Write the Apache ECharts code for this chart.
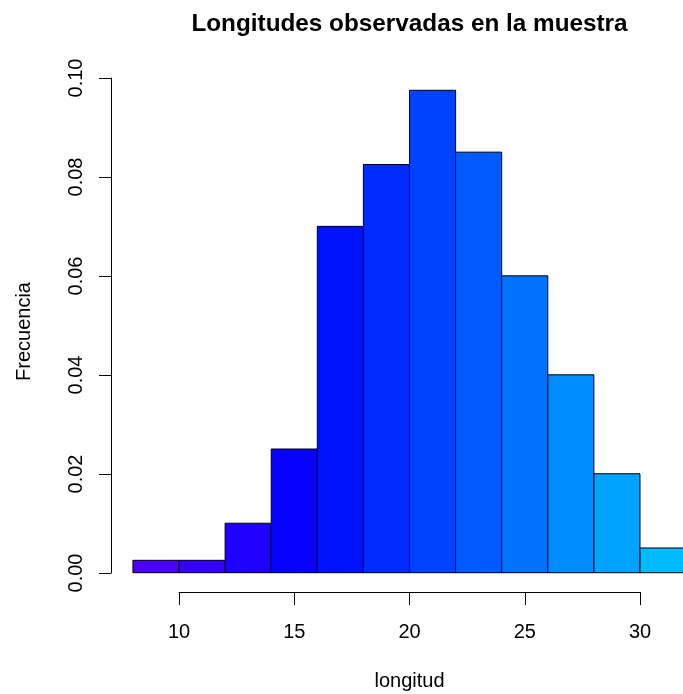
<!DOCTYPE html>
<html>
<head>
<meta charset="utf-8">
<script src="https://cdn.jsdelivr.net/npm/echarts@6/dist/echarts.min.js"></script>
<style>
html,body{margin:0;padding:0;background:#fff;}
#chart{width:683px;height:694px;}
</style>
</head>
<body>
<div id="chart"></div>
<script>
// Histogram data (density per bin)
const breaks = [8, 10, 12, 14, 16, 18, 20, 22, 24, 26, 28, 30, 32];
const density = [0.0025, 0.0025, 0.01, 0.025, 0.07, 0.0825, 0.0975, 0.085, 0.06, 0.04, 0.02, 0.005];
const barColors = ['#4C00FF', '#3500FF', '#1D00FF', '#0500FF', '#0013FF', '#002BFF',
                   '#0043FF', '#005BFF', '#0073FF', '#008BFF', '#00A3FF', '#00BBFF'];
const xTicks = [10, 15, 20, 25, 30];
const yTicks = [0, 0.02, 0.04, 0.06, 0.08, 0.1];

const titleText = 'Longitudes observadas en la muestra';
const xName = 'longitud';
const yName = 'Frecuencia';

const FONT = '"Liberation Sans", Arial, Helvetica, sans-serif';

const binData = density.map((d, i) => [breaks[i], breaks[i + 1], d, i]);

const chart = echarts.init(document.getElementById('chart'), null, {renderer: 'canvas'});
chart.setOption({
  backgroundColor: '#ffffff',
  animation: false,
  title: {
    text: titleText,
    left: 409.5,
    textAlign: 'center',
    top: 12,
    padding: 0,
    textStyle: {fontFamily: FONT, fontSize: 24.3, fontWeight: 'bold', color: '#000'}
  },
  grid: [
    {left: 110.8, right: -25.2, top: 71, bottom: 102, outerBoundsMode: 'none', containLabel: false},
    {left: 179, width: 461, top: 78, height: 495, outerBoundsMode: 'none', containLabel: false}
  ],
  xAxis: [
    {
      gridIndex: 0, type: 'value', min: 7.04, max: 32.96,
      axisLine: {show: false}, axisTick: {show: false}, axisLabel: {show: false}, splitLine: {show: false},
      name: xName, nameLocation: 'middle', nameGap: 79,
      nameTextStyle: {fontFamily: FONT, fontSize: 20, color: '#000'}
    },
    {
      gridIndex: 1, type: 'value', min: xTicks[0], max: xTicks[xTicks.length - 1], interval: 5,
      offset: 19,
      axisLine: {show: true, onZero: false, lineStyle: {color: '#000', width: 1}},
      axisTick: {show: true, length: 13, lineStyle: {color: '#000', width: 1}},
      axisLabel: {show: true, margin: 30, fontFamily: FONT, fontSize: 20, color: '#000'},
      splitLine: {show: false}
    }
  ],
  yAxis: [
    {
      gridIndex: 0, type: 'value', min: -0.0039, max: 0.1014,
      axisLine: {show: false}, axisTick: {show: false}, axisLabel: {show: false}, splitLine: {show: false},
      name: yName, nameLocation: 'middle', nameGap: 76, nameRotate: 90,
      nameTextStyle: {fontFamily: FONT, fontSize: 20, color: '#000'}
    },
    {
      gridIndex: 1, type: 'value', min: yTicks[0], max: yTicks[yTicks.length - 1], interval: 0.02,
      offset: 68,
      axisLine: {show: true, onZero: false, lineStyle: {color: '#000', width: 1}},
      axisTick: {show: true, length: 12, lineStyle: {color: '#000', width: 1}},
      axisLabel: {show: true, rotate: 90, margin: 25, fontFamily: FONT, fontSize: 20, color: '#000',
        formatter: v => v.toFixed(2)},
      splitLine: {show: false}
    }
  ],
  series: [{
    type: 'custom',
    xAxisIndex: 0, yAxisIndex: 0,
    clip: false,
    data: binData,
    renderItem: function (params, api) {
      const p0 = api.coord([api.value(0), api.value(2)]);
      const p1 = api.coord([api.value(1), 0]);
      const idx = api.value(3);
      return {
        type: 'rect',
        shape: {x: p0[0], y: p0[1], width: p1[0] - p0[0], height: p1[1] - p0[1]},
        style: {fill: barColors[idx], stroke: '#000', lineWidth: 1}
      };
    }
  }]
});
</script>
</body>
</html>
